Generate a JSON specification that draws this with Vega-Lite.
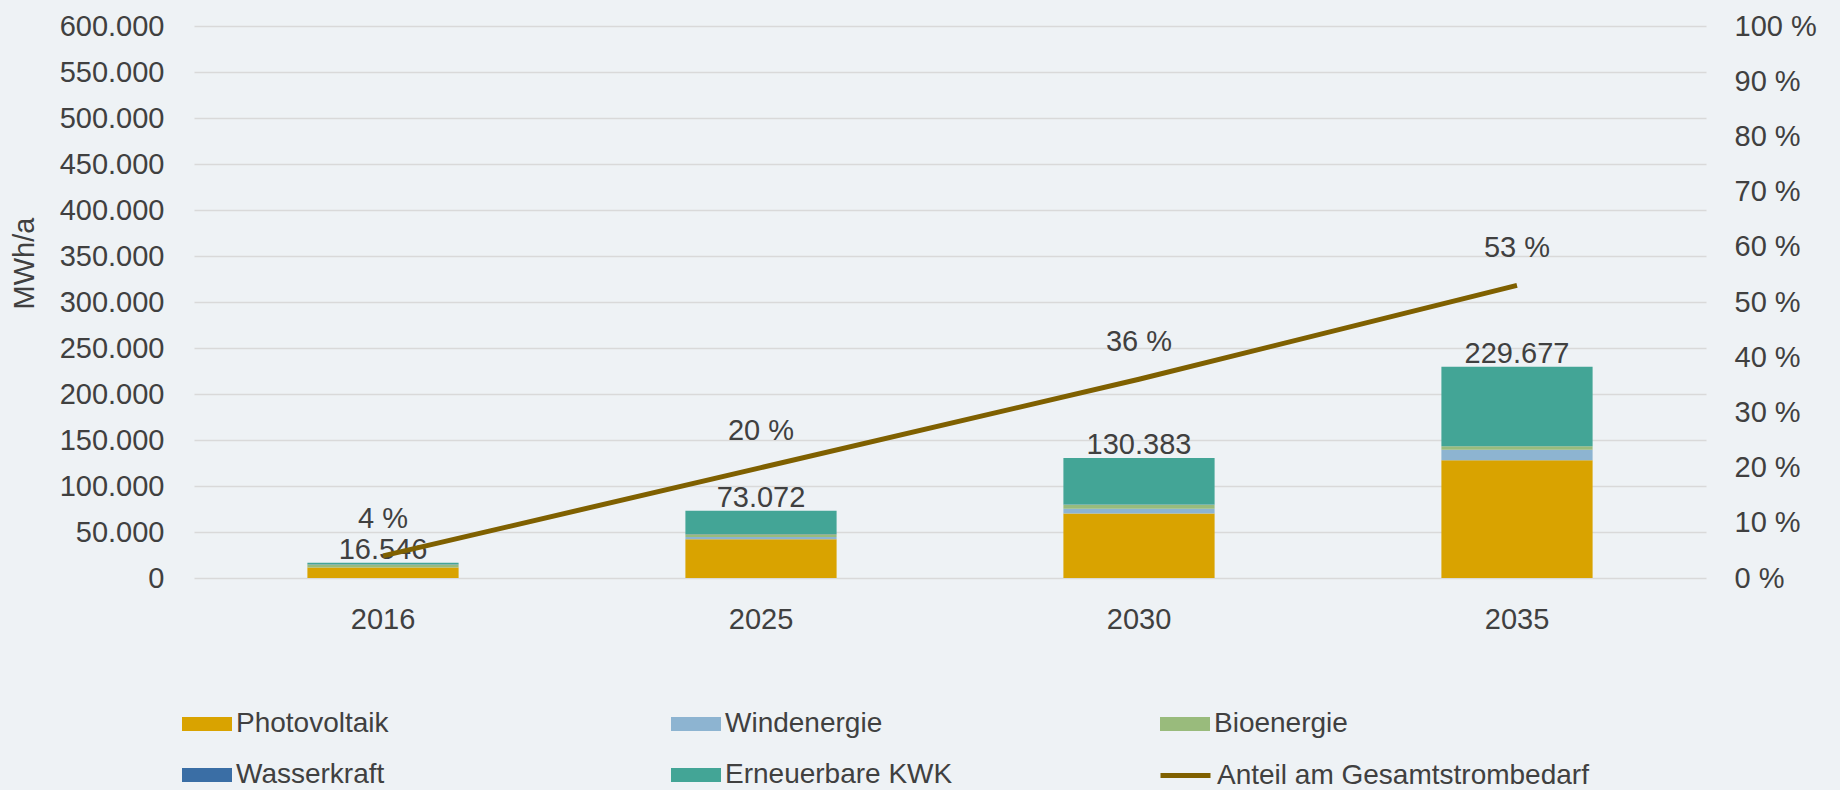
{
  "$schema": "https://vega.github.io/schema/vega-lite/v6.json",
  "width": 1512,
  "height": 552,
  "autosize": {"type": "none"},
  "padding": {"left": 194, "top": 26, "right": 134, "bottom": 212},
  "background": "#EEF2F5",
  "config": {
    "view": {"stroke": null},
    "font": "Liberation Sans",
    "locale": {"number": {"decimal": ",", "thousands": ".", "grouping": [3], "currency": ["", " €"]}},
    "axis": {"labelFont": "Liberation Sans", "labelColor": "#404040", "titleColor": "#404040", "labelFontSize": 29, "titleFontSize": 29, "titleFontWeight": "normal", "domain": false, "ticks": false},
    "legend": {"labelFont": "Liberation Sans", "labelColor": "#404040", "labelFontSize": 28, "labelLimit": 600}
  },
  "datasets": {
    "energy": [
      {"year": "2016", "source": "Photovoltaik", "value": 11300},
      {"year": "2016", "source": "Windenergie", "value": 100},
      {"year": "2016", "source": "Bioenergie", "value": 3400},
      {"year": "2016", "source": "Wasserkraft", "value": 100},
      {"year": "2016", "source": "Erneuerbare KWK", "value": 1646},
      {"year": "2025", "source": "Photovoltaik", "value": 42000},
      {"year": "2025", "source": "Windenergie", "value": 2700},
      {"year": "2025", "source": "Bioenergie", "value": 2900},
      {"year": "2025", "source": "Wasserkraft", "value": 100},
      {"year": "2025", "source": "Erneuerbare KWK", "value": 25372},
      {"year": "2030", "source": "Photovoltaik", "value": 70000},
      {"year": "2030", "source": "Windenergie", "value": 5400},
      {"year": "2030", "source": "Bioenergie", "value": 4300},
      {"year": "2030", "source": "Wasserkraft", "value": 100},
      {"year": "2030", "source": "Erneuerbare KWK", "value": 50583},
      {"year": "2035", "source": "Photovoltaik", "value": 128000},
      {"year": "2035", "source": "Windenergie", "value": 11300},
      {"year": "2035", "source": "Bioenergie", "value": 3900},
      {"year": "2035", "source": "Wasserkraft", "value": 100},
      {"year": "2035", "source": "Erneuerbare KWK", "value": 86377}
    ],
    "share": [
      {"year": "2016", "pct": 4},
      {"year": "2025", "pct": 20},
      {"year": "2030", "pct": 36},
      {"year": "2035", "pct": 53}
    ]
  },
  "layer": [
    {
      "data": {"name": "energy"},
      "layer": [
        {
          "transform": [{"calculate": "indexof(['Photovoltaik', 'Windenergie', 'Bioenergie', 'Wasserkraft', 'Erneuerbare KWK'], datum.source)", "as": "stackRank"}],
          "mark": {"type": "bar"},
          "encoding": {
            "x": {"field": "year", "type": "nominal", "scale": {"paddingInner": 0.6, "paddingOuter": 0.3},
                  "axis": {"title": null, "labelAngle": 0, "labelPadding": 27}},
            "y": {"field": "value", "type": "quantitative", "stack": "zero",
                  "scale": {"domain": [0, 600000], "nice": false},
                  "axis": {"title": "MWh/a", "values": [0, 50000, 100000, 150000, 200000, 250000, 300000, 350000, 400000, 450000, 500000, 550000, 600000],
                           "format": ",d", "grid": true, "gridColor": "#D9D9D9", "gridWidth": 1.5, "labelPadding": 30,
                           "titleX": -170, "titleY": 237, "titleAngle": -90, "titleBaseline": "middle", "titleAlign": "center"}},
            "color": {"field": "source", "type": "nominal",
                      "sort": ["Photovoltaik", "Windenergie", "Bioenergie", "Wasserkraft", "Erneuerbare KWK"],
                      "scale": {"domain": ["Photovoltaik", "Windenergie", "Bioenergie", "Wasserkraft", "Erneuerbare KWK"],
                                "range": ["#D9A300", "#8DB4D1", "#99BB7C", "#3A6EA5", "#43A596"]},
                      "legend": {"title": null, "orient": "none", "direction": "horizontal", "legendX": -12, "legendY": 673, "columns": 3, "gridAlign": "all",
                                 "columnPadding": 207, "rowPadding": 12, "symbolType": "M-1,-0.28H1V0.28H-1Z", "symbolSize": 2500,
                                 "symbolStrokeWidth": 0, "symbolOpacity": 1, "labelOffset": 4}},
            "order": {"field": "stackRank", "type": "quantitative", "sort": "ascending"}
          }
        },
        {
          "transform": [{"aggregate": [{"op": "sum", "field": "value", "as": "total"}], "groupby": ["year"]}],
          "mark": {"type": "text", "fontSize": 29, "color": "#404040", "baseline": "middle", "dy": -13, "font": "Liberation Sans"},
          "encoding": {
            "x": {"field": "year", "type": "nominal"},
            "y": {"field": "total", "type": "quantitative"},
            "text": {"field": "total", "type": "quantitative", "format": ",d"}
          }
        }
      ]
    },
    {
      "data": {"name": "share"},
      "layer": [
        {
          "mark": {"type": "line", "strokeWidth": 5},
          "encoding": {
            "x": {"field": "year", "type": "nominal"},
            "y": {"field": "pct", "type": "quantitative", "scale": {"domain": [0, 100], "nice": false},
                  "axis": {"orient": "right", "title": null, "values": [0, 10, 20, 30, 40, 50, 60, 70, 80, 90, 100],
                           "labelExpr": "datum.value + ' %'", "grid": false, "labelPadding": 28}},
            "stroke": {"datum": "Anteil am Gesamtstrombedarf", "type": "nominal",
                       "scale": {"range": ["#7F6000"]},
                       "legend": {"title": null, "orient": "none", "legendX": 964, "legendY": 722, "symbolType": "stroke",
                                  "symbolSize": 2500, "symbolStrokeWidth": 5, "labelOffset": 4}}
          }
        },
        {
          "mark": {"type": "text", "fontSize": 29, "color": "#404040", "baseline": "middle", "dy": -37, "font": "Liberation Sans",
                   "text": {"expr": "datum.pct + ' %'"}},
          "encoding": {
            "x": {"field": "year", "type": "nominal"},
            "y": {"field": "pct", "type": "quantitative"}
          }
        }
      ]
    }
  ],
  "resolve": {"scale": {"y": "independent"}}
}
